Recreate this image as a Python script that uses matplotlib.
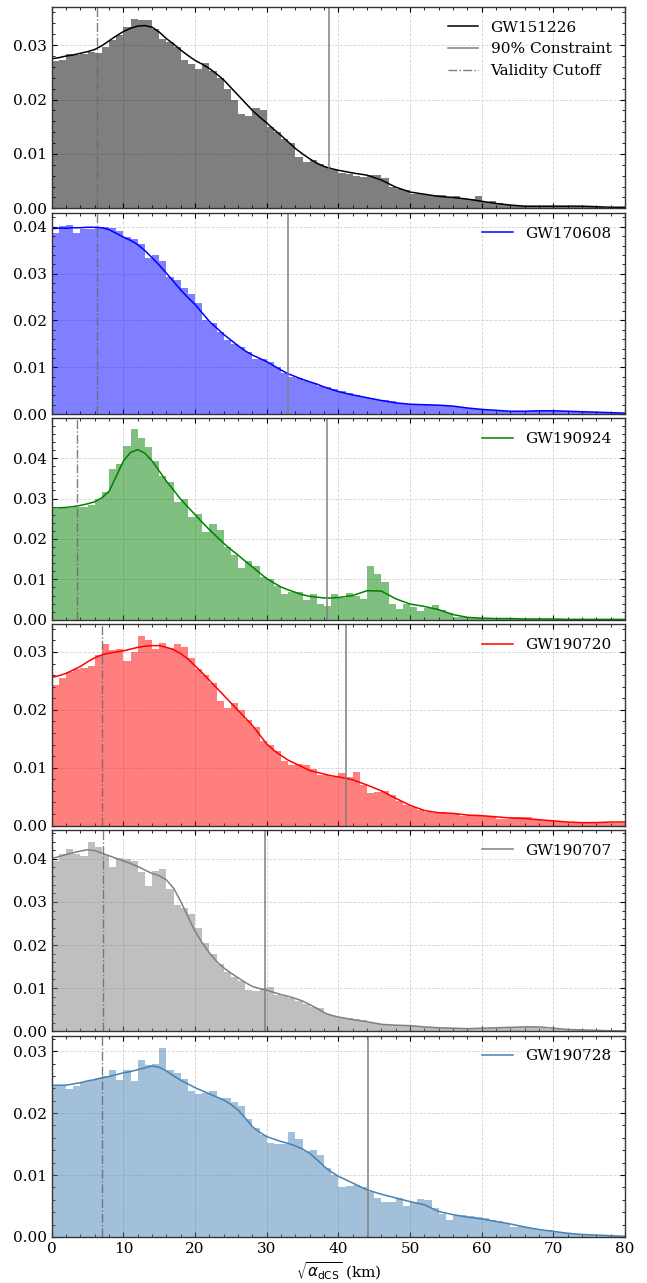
import numpy as np
import matplotlib
matplotlib.use("Agg")
import matplotlib.pyplot as plt
from matplotlib.ticker import MultipleLocator, AutoMinorLocator

# events, colours and vertical markers (km)
events = ["GW151226", "GW170608", "GW190924", "GW190720", "GW190707", "GW190728"]
colors = ["k", "b", "g", "r", "gray", "steelblue"]
cutoffs = [6.3, 6.3, 3.5, 7.0, 7.1, 7.0]
constraints = [38.7, 33.0, 38.4, 41.1, 29.8, 44.2]
ytops = [0.037, 0.043, 0.0498, 0.0348, 0.0467, 0.0325]

# histogram bins: 1 km wide, 0-80 km
bin_edges = np.arange(0, 81, 1)

hist_151226 = [
    0.0271, 0.0272, 0.0283, 0.0282, 0.0283, 0.0288, 0.0285, 0.0296, 0.0309, 0.0318,
    0.0333, 0.0348, 0.0347, 0.0346, 0.0330, 0.0311, 0.0305, 0.0297, 0.0273, 0.0266,
    0.0256, 0.0267, 0.0252, 0.0240, 0.0220, 0.0200, 0.0173, 0.0169, 0.0185, 0.0180,
    0.0150, 0.0140, 0.0128, 0.0120, 0.0095, 0.0085, 0.0089, 0.0082, 0.0076, 0.0070,
    0.0065, 0.0064, 0.0060, 0.0058, 0.0062, 0.0061, 0.0055, 0.0039, 0.0036, 0.0033,
    0.0027, 0.0026, 0.0024, 0.0024, 0.0024, 0.0021, 0.0022, 0.0018, 0.0018, 0.0022,
    0.0012, 0.0013, 0.0009, 0.0008, 0.0006, 0.0005, 0.0004, 0.0004, 0.0004, 0.0004,
    0.0004, 0.0004, 0.0003, 0.0003, 0.0003, 0.0002, 0.0002, 0.0001, 0.0001, 0.0001]
hist_170608 = [
    0.0386, 0.0401, 0.0404, 0.0386, 0.0396, 0.0396, 0.0399, 0.0399, 0.0398, 0.0390,
    0.0378, 0.0375, 0.0364, 0.0334, 0.0339, 0.0326, 0.0292, 0.0287, 0.0269, 0.0256,
    0.0238, 0.0200, 0.0195, 0.0175, 0.0158, 0.0149, 0.0143, 0.0133, 0.0118, 0.0117,
    0.0111, 0.0100, 0.0087, 0.0080, 0.0077, 0.0071, 0.0066, 0.0061, 0.0058, 0.0053,
    0.0049, 0.0045, 0.0041, 0.0037, 0.0034, 0.0031, 0.0029, 0.0027, 0.0024, 0.0022,
    0.0021, 0.0020, 0.0020, 0.0019, 0.0018, 0.0017, 0.0016, 0.0014, 0.0012, 0.0010,
    0.0009, 0.0008, 0.0007, 0.0006, 0.0006, 0.0006, 0.0007, 0.0007, 0.0007, 0.0007,
    0.0006, 0.0006, 0.0005, 0.0005, 0.0004, 0.0004, 0.0003, 0.0003, 0.0003, 0.0002]
hist_190924 = [
    0.0274, 0.0277, 0.0277, 0.0278, 0.0279, 0.0284, 0.0298, 0.0315, 0.0372, 0.0385,
    0.0430, 0.0472, 0.0450, 0.0428, 0.0393, 0.0356, 0.0340, 0.0292, 0.0300, 0.0255,
    0.0262, 0.0218, 0.0236, 0.0222, 0.0180, 0.0160, 0.0128, 0.0146, 0.0133, 0.0106,
    0.0102, 0.0083, 0.0064, 0.0068, 0.0068, 0.0048, 0.0064, 0.0040, 0.0035, 0.0063,
    0.0055, 0.0067, 0.0058, 0.0052, 0.0134, 0.0113, 0.0094, 0.0038, 0.0027, 0.0038,
    0.0031, 0.0022, 0.0028, 0.0036, 0.0025, 0.0017, 0.0008, 0.0006, 0.0005, 0.0004,
    0.0003, 0.0003, 0.0003, 0.0003, 0.0003, 0.0003, 0.0002, 0.0002, 0.0002, 0.0001,
    0.0001, 0.0001, 0.0, 0.0, 0.0, 0.0, 0.0, 0.0, 0.0, 0.0]
hist_190720 = [
    0.0243, 0.0255, 0.0266, 0.0271, 0.0272, 0.0276, 0.0295, 0.0313, 0.0304, 0.0305,
    0.0284, 0.0300, 0.0327, 0.0320, 0.0305, 0.0316, 0.0307, 0.0313, 0.0308, 0.0290,
    0.0271, 0.0261, 0.0246, 0.0215, 0.0203, 0.0211, 0.0200, 0.0182, 0.0170, 0.0146,
    0.0140, 0.0128, 0.0111, 0.0104, 0.0107, 0.0105, 0.0098, 0.0088, 0.0087, 0.0083,
    0.0090, 0.0083, 0.0093, 0.0070, 0.0057, 0.0058, 0.0060, 0.0052, 0.0043, 0.0036,
    0.0032, 0.0027, 0.0024, 0.0021, 0.0023, 0.0022, 0.0020, 0.0017, 0.0018, 0.0017,
    0.0016, 0.0015, 0.0012, 0.0012, 0.0014, 0.0014, 0.0015, 0.0010, 0.0009, 0.0008,
    0.0007, 0.0006, 0.0006, 0.0005, 0.0005, 0.0005, 0.0005, 0.0005, 0.0005, 0.0005]
hist_190707 = [
    0.0396, 0.0412, 0.0422, 0.0410, 0.0407, 0.0440, 0.0428, 0.0408, 0.0382, 0.0401,
    0.0399, 0.0395, 0.0370, 0.0336, 0.0372, 0.0376, 0.0330, 0.0292, 0.0286, 0.0272,
    0.0240, 0.0205, 0.0180, 0.0155, 0.0137, 0.0125, 0.0117, 0.0095, 0.0093, 0.0100,
    0.0103, 0.0084, 0.0081, 0.0077, 0.0070, 0.0064, 0.0057, 0.0053, 0.0040, 0.0036,
    0.0030, 0.0030, 0.0029, 0.0025, 0.0020, 0.0018, 0.0015, 0.0014, 0.0014, 0.0013,
    0.0012, 0.0011, 0.0010, 0.0009, 0.0008, 0.0007, 0.0006, 0.0006, 0.0006, 0.0007,
    0.0008, 0.0008, 0.0009, 0.0009, 0.0010, 0.0010, 0.0012, 0.0009, 0.0007, 0.0005,
    0.0004, 0.0003, 0.0003, 0.0002, 0.0002, 0.0001, 0.0001, 0.0001, 0.0001, 0.0001]
hist_190728 = [
    0.0245, 0.0243, 0.0239, 0.0244, 0.0250, 0.0253, 0.0256, 0.0260, 0.0269, 0.0253,
    0.0270, 0.0252, 0.0285, 0.0277, 0.0279, 0.0305, 0.0270, 0.0265, 0.0255, 0.0235,
    0.0231, 0.0232, 0.0236, 0.0224, 0.0225, 0.0218, 0.0212, 0.0190, 0.0176, 0.0165,
    0.0151, 0.0150, 0.0150, 0.0170, 0.0158, 0.0139, 0.0140, 0.0132, 0.0112, 0.0100,
    0.0080, 0.0082, 0.0084, 0.0080, 0.0072, 0.0063, 0.0057, 0.0057, 0.0063, 0.0050,
    0.0056, 0.0061, 0.0059, 0.0046, 0.0037, 0.0027, 0.0036, 0.0036, 0.0034, 0.0032,
    0.0031, 0.0027, 0.0025, 0.0023, 0.0016, 0.0017, 0.0014, 0.0013, 0.0011, 0.0011,
    0.0008, 0.0007, 0.0005, 0.0004, 0.0003, 0.0003, 0.0002, 0.0002, 0.0001, 0.0001]

# KDE curves: 1 km steps up to 40 km, then 2 km steps
kde_x = list(range(0, 41)) + list(range(42, 81, 2))

kde_151226 = [
    0.0275, 0.0277, 0.0280, 0.0282, 0.0285, 0.0288, 0.0292, 0.0299, 0.0308, 0.0317,
    0.0325, 0.0331, 0.0335, 0.0336, 0.0333, 0.0324, 0.0312, 0.0302, 0.0291, 0.0281,
    0.0272, 0.0265, 0.0257, 0.0247, 0.0236, 0.0222, 0.0208, 0.0194, 0.0180, 0.0168,
    0.0157, 0.0145, 0.0134, 0.0122, 0.0110, 0.0100, 0.0091, 0.0083, 0.0077, 0.0073,
    0.0070,
    0.0065, 0.0061, 0.0052, 0.0039, 0.0030, 0.0026, 0.0022, 0.0020, 0.0017, 0.0013,
    0.0009, 0.0006, 0.0004, 0.0004, 0.0004, 0.0004, 0.0004, 0.0003, 0.0002, 0.0002]
kde_170608 = [
    0.0396, 0.0397, 0.0397, 0.0398, 0.0398, 0.0399, 0.0399, 0.0398, 0.0394, 0.0386,
    0.0378, 0.0371, 0.0362, 0.0349, 0.0334, 0.0318, 0.0301, 0.0283, 0.0265, 0.0249,
    0.0234, 0.0216, 0.0198, 0.0184, 0.0170, 0.0158, 0.0146, 0.0135, 0.0126, 0.0119,
    0.0112, 0.0103, 0.0094, 0.0086, 0.0080, 0.0074, 0.0069, 0.0064, 0.0058, 0.0053,
    0.0048,
    0.0041, 0.0035, 0.0029, 0.0024, 0.0021, 0.0020, 0.0019, 0.0017, 0.0013, 0.0010,
    0.0008, 0.0006, 0.0006, 0.0007, 0.0007, 0.0006, 0.0005, 0.0004, 0.0003, 0.0002]
kde_190924 = [
    0.0277, 0.0277, 0.0278, 0.0280, 0.0283, 0.0287, 0.0292, 0.0302, 0.0318, 0.0355,
    0.0393, 0.0414, 0.0421, 0.0412, 0.0393, 0.0368, 0.0343, 0.0321, 0.0298, 0.0279,
    0.0260, 0.0241, 0.0223, 0.0206, 0.0189, 0.0174, 0.0160, 0.0145, 0.0131, 0.0116,
    0.0102, 0.0091, 0.0081, 0.0074, 0.0068, 0.0062, 0.0058, 0.0056, 0.0054, 0.0054,
    0.0055,
    0.0060, 0.0072, 0.0071, 0.0052, 0.0039, 0.0033, 0.0025, 0.0013, 0.0006, 0.0004,
    0.0003, 0.0003, 0.0002, 0.0002, 0.0002, 0.0001, 0.0001, 0.0001, 0.0001, 0.0001]
kde_190720 = [
    0.0256, 0.0259, 0.0263, 0.0269, 0.0275, 0.0283, 0.0290, 0.0295, 0.0298, 0.0300,
    0.0302, 0.0305, 0.0308, 0.0310, 0.0311, 0.0311, 0.0308, 0.0304, 0.0297, 0.0288,
    0.0276, 0.0264, 0.0251, 0.0238, 0.0225, 0.0212, 0.0199, 0.0186, 0.0173, 0.0157,
    0.0141, 0.0130, 0.0121, 0.0113, 0.0107, 0.0101, 0.0095, 0.0092, 0.0089, 0.0086,
    0.0084,
    0.0079, 0.0070, 0.0060, 0.0047, 0.0035, 0.0026, 0.0022, 0.0021, 0.0018, 0.0017,
    0.0015, 0.0013, 0.0012, 0.0010, 0.0008, 0.0006, 0.0005, 0.0005, 0.0006, 0.0006]
kde_190707 = [
    0.0401, 0.0405, 0.0410, 0.0414, 0.0418, 0.0421, 0.0419, 0.0413, 0.0407, 0.0401,
    0.0395, 0.0389, 0.0382, 0.0374, 0.0366, 0.0361, 0.0351, 0.0332, 0.0301, 0.0266,
    0.0232, 0.0205, 0.0182, 0.0162, 0.0147, 0.0135, 0.0124, 0.0113, 0.0104, 0.0099,
    0.0095, 0.0090, 0.0085, 0.0081, 0.0076, 0.0070, 0.0062, 0.0053, 0.0043, 0.0037,
    0.0033,
    0.0027, 0.0022, 0.0016, 0.0014, 0.0013, 0.0010, 0.0008, 0.0007, 0.0006, 0.0007,
    0.0008, 0.0009, 0.0010, 0.0010, 0.0007, 0.0004, 0.0003, 0.0002, 0.0001, 0.0001]
kde_190728 = [
    0.0245, 0.0245, 0.0245, 0.0247, 0.0249, 0.0252, 0.0254, 0.0257, 0.0259, 0.0262,
    0.0265, 0.0267, 0.0270, 0.0273, 0.0276, 0.0274, 0.0268, 0.0260, 0.0253, 0.0247,
    0.0241, 0.0236, 0.0231, 0.0226, 0.0221, 0.0214, 0.0205, 0.0192, 0.0178, 0.0169,
    0.0162, 0.0158, 0.0154, 0.0151, 0.0147, 0.0142, 0.0135, 0.0125, 0.0114, 0.0105,
    0.0098,
    0.0087, 0.0076, 0.0069, 0.0063, 0.0057, 0.0052, 0.0041, 0.0036, 0.0032, 0.0029,
    0.0025, 0.0021, 0.0016, 0.0012, 0.0009, 0.0006, 0.0004, 0.0003, 0.0002, 0.0001]

hists = [hist_151226, hist_170608, hist_190924, hist_190720, hist_190707, hist_190728]
kdes = [kde_151226, kde_170608, kde_190924, kde_190720, kde_190707, kde_190728]

plt.rcParams['font.family'] = 'serif'
plt.rcParams['font.serif'] = ['DejaVu Serif']
plt.rcParams['mathtext.fontset'] = 'dejavusans'
plt.rcParams['font.size'] = 11

fig, axes = plt.subplots(6, 1, figsize=(6.47, 12.83), dpi=100, sharex=True)
fig.subplots_adjust(left=0.080, right=0.966, top=0.9945, bottom=0.0359, hspace=0.022)

for i, ax in enumerate(axes):
    ax.set_axisbelow(True)
    ax.grid(True, which='major', linestyle='--', color='lightgray', linewidth=0.6)
    ax.bar(bin_edges[:-1], hists[i], width=1.0, align='edge', color=colors[i],
           alpha=0.5, linewidth=0)
    ax.plot(kde_x, kdes[i], color=colors[i], lw=1.1, label=events[i])
    ax.axvline(constraints[i], color='gray', lw=1.1, label='90% Constraint')
    ax.axvline(cutoffs[i], color='dimgray', lw=1.0, ls='-.', alpha=0.85,
               label='Validity Cutoff')

    ax.set_xlim(0, 80)
    ax.set_ylim(0, ytops[i])
    ax.xaxis.set_major_locator(MultipleLocator(10))
    ax.xaxis.set_minor_locator(MultipleLocator(2))
    ax.yaxis.set_major_locator(MultipleLocator(0.01))
    ax.yaxis.set_minor_locator(AutoMinorLocator(5))
    ax.tick_params(which='both', direction='in', top=True, right=True)
    ax.tick_params(which='major', length=3.5, width=0.8)
    ax.tick_params(which='minor', length=2, width=0.6)
    for sp in ax.spines.values():
        sp.set_linewidth(1.0)
        sp.set_color('#333333')

    if i == 0:
        ax.legend(loc='upper right', frameon=False, handlelength=2.0)
    else:
        h, l = ax.get_legend_handles_labels()
        ax.legend(h[:1], l[:1], loc='upper right', frameon=False, handlelength=2.0)

axes[-1].set_xlabel(r'$\sqrt{\alpha_{\mathrm{dCS}}}$ (km)')

fig.savefig("out.png", dpi=100)
